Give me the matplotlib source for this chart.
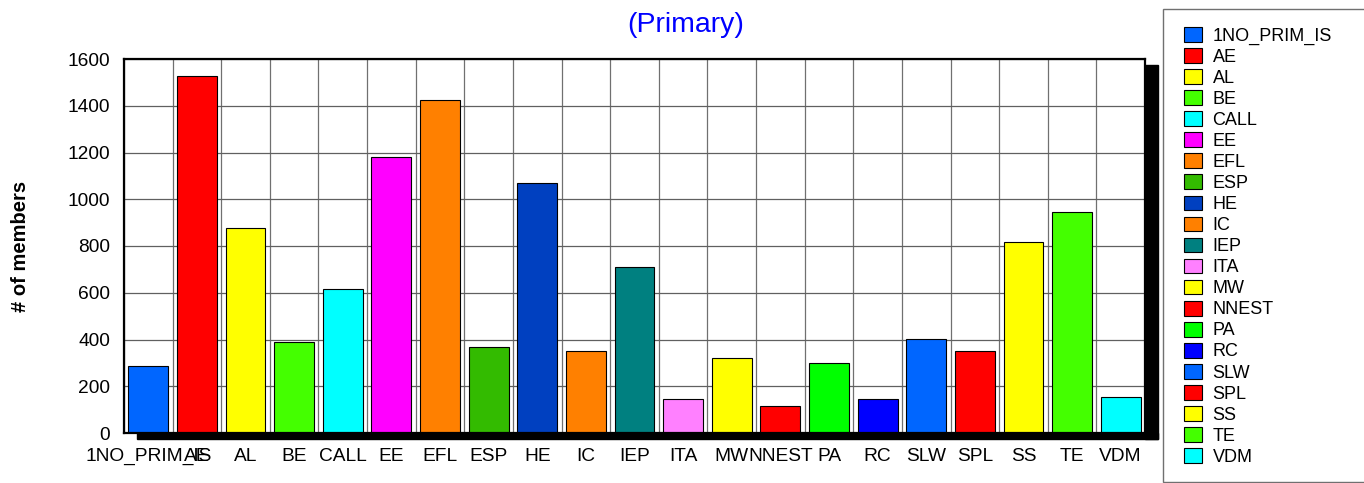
import matplotlib
matplotlib.use("Agg")
import matplotlib.pyplot as plt
from matplotlib.patches import Rectangle
import numpy as np

plt.rcParams['font.family'] = ['Liberation Sans', 'DejaVu Sans']

categories = ["1NO_PRIM_IS", "AE", "AL", "BE", "CALL", "EE", "EFL", "ESP", "HE", "IC",
              "IEP", "ITA", "MW", "NNEST", "PA", "RC", "SLW", "SPL", "SS", "TE", "VDM"]
values = [285, 1527, 878, 391, 616, 1180, 1425, 368, 1070, 351,
          710, 145, 322, 116, 298, 144, 402, 352, 816, 944, 155]
colors = ["#0066FF", "#FF0000", "#FFFF00", "#44FF00", "#00FFFF", "#FF00FF", "#FF8000",
          "#33BB00", "#0040C0", "#FF8000", "#008080", "#FF80FF", "#FFFF00", "#FF0000",
          "#00FF00", "#0000FF", "#0066FF", "#FF0000", "#FFFF00", "#44FF00", "#00FFFF"]
yticks = [0, 200, 400, 600, 800, 1000, 1200, 1400, 1600]

W, H = 1364, 483
fig = plt.figure(figsize=(W / 100, H / 100), dpi=100)
ax_l, ax_b, ax_w, ax_h = 124, 433, 1021, 374
ax = fig.add_axes([ax_l / W, (H - ax_b) / H, ax_w / W, ax_h / H])

x = np.arange(len(categories))
bars = ax.bar(x, values, width=0.82, color=colors, edgecolor="black", linewidth=0.8, zorder=3)

ax.set_xlim(-0.5, len(categories) - 0.5)
ax.set_ylim(0, 1600)
ax.set_yticks(yticks)
ax.set_xticks(x)
ax.set_xticklabels(categories)
ax.set_xticks(np.arange(len(categories) + 1) - 0.5, minor=True)
ax.tick_params(axis="both", which="both", length=0, labelsize=13.8)
ax.tick_params(axis="x", pad=11)
ax.tick_params(axis="y", pad=10)
ax.grid(axis="y", which="major", color="#606060", linewidth=0.9, zorder=1)
ax.grid(axis="x", which="minor", color="#707070", linewidth=0.9, zorder=1)
ax.grid(axis="x", which="major", visible=False)
ax.set_axisbelow(True)
for s in ["left", "top", "bottom", "right"]:
    ax.spines[s].set_linewidth(1.6)
    ax.spines[s].set_color("black")
    ax.spines[s].set_zorder(4)

# 3D shadow
dx = 13 / ax_w
dy = 6 / ax_h
ax.add_patch(Rectangle((1.0, -dy), dx, 1.0, transform=ax.transAxes, color="black",
                       clip_on=False, zorder=0))
ax.add_patch(Rectangle((dx, -dy), 1.0, dy, transform=ax.transAxes, color="black",
                       clip_on=False, zorder=0))

ax.set_ylabel("# of members", fontsize=14.5, fontweight="bold")
ax.yaxis.set_label_coords(-(ax_l - 30) / ax_w, 0.5)
fig.text(686 / W, 1 - 25 / H, "(Primary)", color="#0000FF", fontsize=20.5,
         ha="center", va="center")

# legend frame
fig.patches.append(Rectangle((1163 / W, 1 - 482 / H), (W - 1163 + 10) / W, (482 - 9) / H,
                             transform=fig.transFigure, facecolor="white",
                             edgecolor="#707070", linewidth=1.0, zorder=0))
leg = fig.legend(bars, categories, loc="upper left",
                 bbox_to_anchor=(1184 / W, 1 - 27 / H), frameon=False,
                 fontsize=13, handlelength=0.98, handleheight=0.88,
                 handletextpad=0.6, labelspacing=0.19, borderpad=0.0,
                 borderaxespad=0.0)
for h in leg.legend_handles:
    h.set_edgecolor("black")
    h.set_linewidth(0.8)

fig.savefig("out.png", dpi=100)
